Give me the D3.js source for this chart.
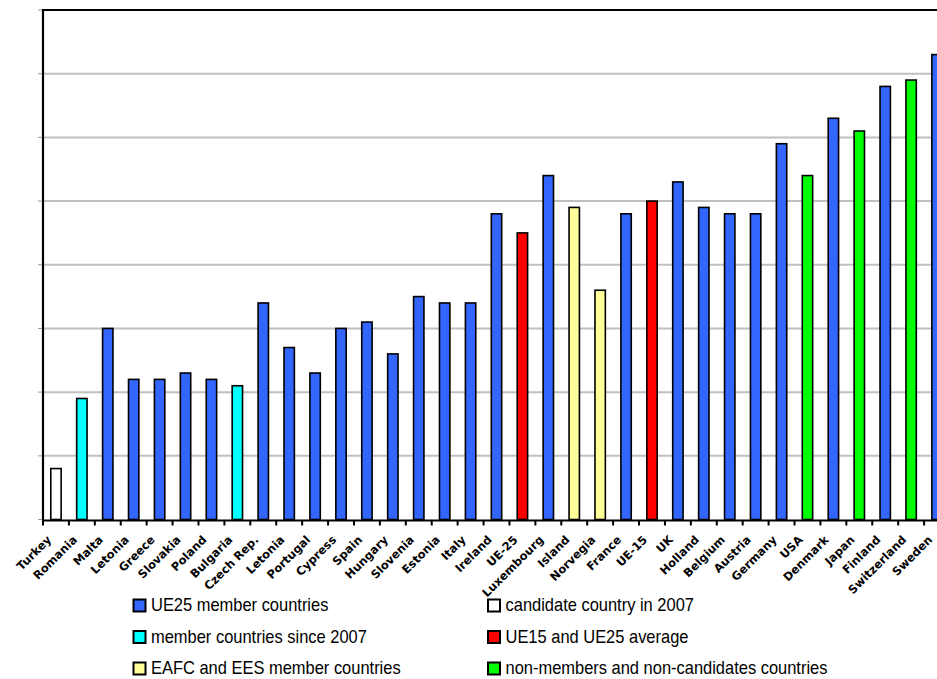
<!DOCTYPE html>
<html>
<head>
<meta charset="utf-8">
<script src="https://cdn.jsdelivr.net/npm/d3@7"></script>
<style>
  body { margin: 0; background: #fff; }
  svg { display: block; }
</style>
</head>
<body>
<script>
// countries in order, values (1 unit = 1 gridline)
const countries = ["Turkey", "Romania", "Malta", "Letonia", "Greece", "Slovakia", "Poland",
  "Bulgaria", "Czech Rep.", "Letonia", "Portugal", "Cypress", "Spain", "Hungary", "Slovenia",
  "Estonia", "Italy", "Ireland", "UE-25", "Luxembourg", "Island", "Norvegia", "France", "UE-15",
  "UK", "Holland", "Belgium", "Austria", "Germany", "USA", "Denmark", "Japan", "Finland",
  "Switzerland", "Sweden"];
const values = [0.8, 1.9, 3.0, 2.2, 2.2, 2.3, 2.2, 2.1, 3.4, 2.7, 2.3, 3.0, 3.1, 2.6, 3.5,
  3.4, 3.4, 4.8, 4.5, 5.4, 4.9, 3.6, 4.8, 5.0, 5.3, 4.9, 4.8, 4.8, 5.9, 5.4, 6.3, 6.1, 6.8,
  6.9, 7.3];
// group of each country
const groups = ["cand", "new", "ue25", "ue25", "ue25", "ue25", "ue25", "new", "ue25", "ue25",
  "ue25", "ue25", "ue25", "ue25", "ue25", "ue25", "ue25", "ue25", "avg", "ue25", "eafc", "eafc",
  "ue25", "avg", "ue25", "ue25", "ue25", "ue25", "ue25", "other", "ue25", "other", "ue25",
  "other", "ue25"];
const gridTicks = [1, 2, 3, 4, 5, 6, 7, 8];

const legendKeys = ["ue25", "cand", "new", "avg", "eafc", "other"];
const legendLabels = ["UE25 member countries", "candidate country in 2007",
  "member countries since 2007", "UE15 and UE25 average",
  "EAFC and EES member countries", "non-members and non-candidates countries"];

const colors = {
  ue25: "#3366ff", new: "#00ffff", cand: "#ffffff",
  avg: "#ff0000", eafc: "#ffff99", other: "#00ff00"
};

const W = 937, H = 679;
const mLeft = 43, mRight = 950, mTop = 10, mBottom = 519.5;

const svg = d3.select("body").append("svg")
  .attr("width", W)
  .attr("height", H);

const x = d3.scaleBand()
  .domain(d3.range(countries.length))
  .range([mLeft, mRight])
  .paddingInner(0.6)
  .paddingOuter(0.3);

const y = d3.scaleLinear()
  .domain([0, 8])
  .range([mBottom, mTop]);

// gridlines
svg.append("g")
  .selectAll("line")
  .data(gridTicks.slice(0, -1))
  .enter()
  .append("line")
  .attr("x1", mLeft)
  .attr("x2", W)
  .attr("y1", d => y(d))
  .attr("y2", d => y(d))
  .attr("stroke", "#c0c0c0")
  .attr("stroke-width", 2);

// small ticks left of the y axis
svg.append("g")
  .selectAll("line")
  .data([0].concat(gridTicks))
  .enter()
  .append("line")
  .attr("x1", mLeft - 5)
  .attr("x2", mLeft)
  .attr("y1", d => y(d))
  .attr("y2", d => y(d))
  .attr("stroke", "#999")
  .attr("stroke-width", 1);

// top frame
svg.append("line")
  .attr("x1", mLeft - 1).attr("x2", W)
  .attr("y1", y(8)).attr("y2", y(8))
  .attr("stroke", "#000").attr("stroke-width", 2);

// bars
svg.append("g")
  .selectAll("rect")
  .data(values)
  .enter()
  .append("rect")
  .attr("x", (d, i) => x(i))
  .attr("y", d => y(d))
  .attr("width", x.bandwidth())
  .attr("height", d => y(0) - y(d))
  .attr("fill", (d, i) => colors[groups[i]])
  .attr("stroke", "#000")
  .attr("stroke-width", 1.6);

// y axis line
svg.append("line")
  .attr("x1", mLeft).attr("x2", mLeft)
  .attr("y1", mTop - 1).attr("y2", mBottom + 1)
  .attr("stroke", "#000").attr("stroke-width", 2.2);

// x axis line and ticks between categories
const step = x.step();
svg.append("line")
  .attr("x1", mLeft - 1).attr("x2", W)
  .attr("y1", mBottom + 1).attr("y2", mBottom + 1)
  .attr("stroke", "#000").attr("stroke-width", 2.2);

svg.append("g")
  .selectAll("line")
  .data(d3.range(countries.length + 1))
  .enter()
  .append("line")
  .attr("x1", i => mLeft + i * step)
  .attr("x2", i => mLeft + i * step)
  .attr("y1", mBottom + 1)
  .attr("y2", mBottom + 6)
  .attr("stroke", "#000")
  .attr("stroke-width", 2);

// rotated category labels
svg.append("g")
  .selectAll("text")
  .data(countries)
  .enter()
  .append("text")
  .attr("transform", (d, i) => `translate(${x(i) + x.bandwidth() / 2 - 4},${mBottom + 21}) rotate(-45)`)
  .attr("text-anchor", "end")
  .attr("font-family", "'DejaVu Sans', Verdana, sans-serif")
  .attr("font-weight", "bold")
  .attr("font-size", 11.5)
  .attr("fill", "#000")
  .text(d => d);

// legend, two columns
const legend = svg.append("g")
  .selectAll("g")
  .data(legendKeys)
  .enter()
  .append("g")
  .attr("transform", (d, i) => `translate(${i % 2 === 0 ? 133.5 : 488},${599.5 + Math.floor(i / 2) * 31.5})`);

legend.append("rect")
  .attr("width", 12)
  .attr("height", 12)
  .attr("fill", d => colors[d])
  .attr("stroke", "#000")
  .attr("stroke-width", 2);

// narrow font is not installed, so squeeze the text horizontally
legend.append("text")
  .attr("transform", "translate(17.5,11.5) scale(0.89,1)")
  .attr("font-family", "'Liberation Sans', Arial, sans-serif")
  .attr("font-size", 18.5)
  .attr("fill", "#000")
  .text((d, i) => legendLabels[i]);
</script>
</body>
</html>
